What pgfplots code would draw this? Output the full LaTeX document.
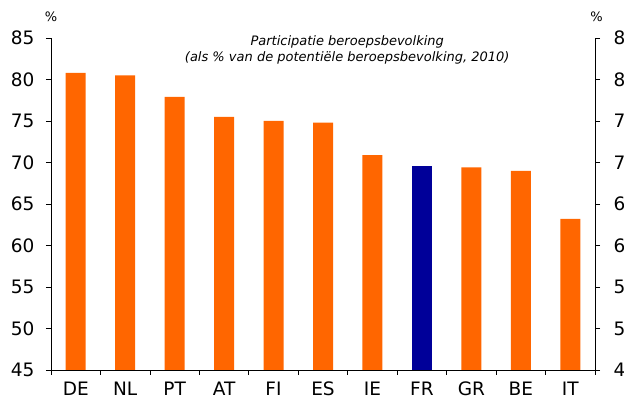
\documentclass[border=0pt]{standalone}
\usepackage{pgfplots}
\pgfplotsset{compat=1.18}
\usepackage{pgfplotstable}
\usepackage{fontspec}
\setmainfont{DejaVu Sans}
\definecolor{barorange}{HTML}{FF6600}
\definecolor{barblue}{HTML}{000099}

\pgfplotstableread{
x val
0 80.8
1 80.5
2 77.9
3 75.5
4 75.0
5 74.8
6 70.9
8 69.4
9 69.0
10 63.2
}\orangedata
\pgfplotstableread{
x val
7 69.6
}\bluedata

\pgfplotsset{common/.style={
 scale only axis, width=544pt, height=332pt,
 xmin=-0.5, xmax=10.5, ymin=45, ymax=85,
 axis line style={black, line width=0.8pt, -},
 ytick={45,50,...,85},
 tick align=outside, major tick length=5pt, minor tick length=5pt,
 tick style={black, line width=0.8pt},
 /pgf/number format/assume math mode=true,
 tick label style={font=\fontsize{18.5}{18.5}\selectfont},
 clip=false,
}}

\begin{document}
\begin{tikzpicture}
\begin{axis}[
 common,
 axis x line*=bottom, axis y line*=left,
 xtick={0,...,10}, xticklabels={DE,NL,PT,AT,FI,ES,IE,FR,GR,BE,IT},
 major x tick style={draw=none},
 minor xtick={-0.5,0.5,...,10.5},
 xticklabel style={anchor=north, text height=13.5pt, text depth=0pt, yshift=-3pt},
 yticklabel style={xshift=-8pt},
 ybar, bar width=20pt, bar shift=0pt,
]
\addplot[fill=barorange, draw=none] table[x=x,y=val]{\orangedata};
\addplot[fill=barblue, draw=none] table[x=x,y=val]{\bluedata};
\node[font=\fontsize{13}{13}\selectfont] at (axis cs:-0.5,87.5) {\%};
\node[font=\fontsize{13}{13}\selectfont] at (axis cs:10.53,87.6) {\%};
\node[font=\itshape\fontsize{13}{16}\selectfont, align=center] at (axis cs:5.49,83.6)
 {Participatie beroepsbevolking\\(als \% van de potentiële beroepsbevolking, 2010)};
\end{axis}
\begin{axis}[
 common,
 axis y line*=right, axis x line=none,
 yticklabel style={anchor=west, xshift=10pt},
]
\addplot[draw=none] coordinates {(0,45)};
\end{axis}
\pgfresetboundingbox
\useasboundingbox (-51pt,-33pt) rectangle (573pt,370pt);
\end{tikzpicture}
\end{document}
